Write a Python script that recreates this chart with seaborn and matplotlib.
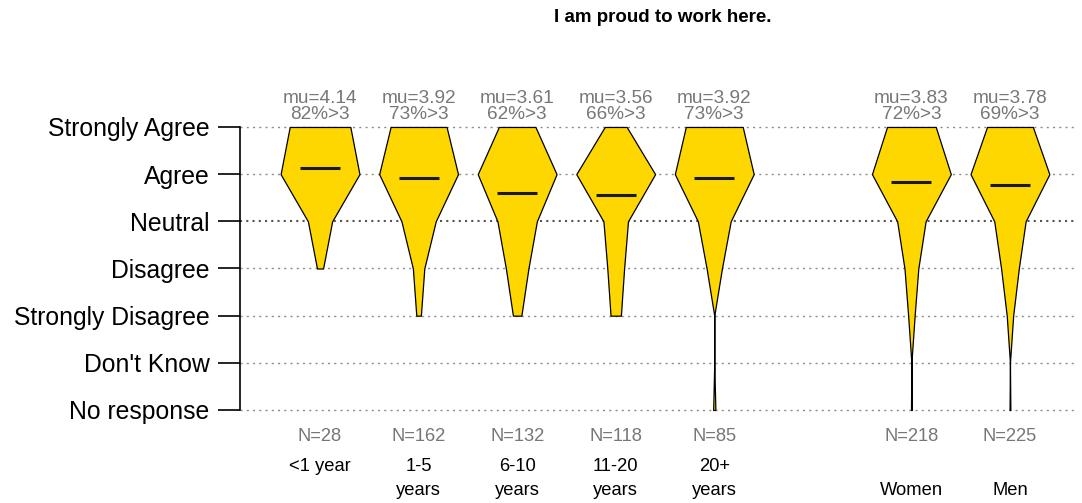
import matplotlib
matplotlib.use("Agg")
import matplotlib.pyplot as plt
import seaborn as sns
import pandas as pd

# Answer levels, top to bottom, and their numeric position on the y axis
levels = ["Strongly Agree", "Agree", "Neutral", "Disagree",
          "Strongly Disagree", "Don't Know", "No response"]
level_y = [5, 4, 3, 2, 1, 0, -1]

# Groups and where they sit on the x axis (gap between tenure and gender)
groups = ["<1 year", "1-5\nyears", "6-10\nyears", "11-20\nyears", "20+\nyears", "\nWomen", "\nMen"]
group_x = [1, 2, 3, 4, 5, 7, 8]

# Response counts per group, ordered like `levels`
counts_lt1 = [10, 13, 4, 1, 0, 0, 0]
counts_1_5 = [49, 69, 30, 10, 4, 0, 0]
counts_6_10 = [26, 56, 28, 16, 6, 0, 0]
counts_11_20 = [17, 61, 19, 13, 8, 0, 0]
counts_20p = [26, 36, 15, 7, 0, 0, 1]
counts_women = [60, 97, 35, 17, 8, 0, 1]
counts_men = [57, 98, 39, 22, 8, 0, 1]
all_counts = [counts_lt1, counts_1_5, counts_6_10, counts_11_20,
              counts_20p, counts_women, counts_men]

# Summary labels shown above each shape
means = [4.14, 3.92, 3.61, 3.56, 3.92, 3.83, 3.78]
pct_agree = [82, 73, 62, 66, 73, 72, 69]
n_resp = [28, 162, 132, 118, 85, 218, 225]

title = "I am proud to work here."

sns.set_style("white")
plt.rcParams["font.family"] = ["Liberation Sans", "DejaVu Sans"]
plt.rcParams["text.color"] = "black"
plt.rcParams["ytick.color"] = "black"

fig = plt.figure(figsize=(10.82, 5.03), dpi=100)
ax = fig.add_axes([240 / 1082, 83 / 503, 835 / 1082, 305 / 503])
ax.set_xlim(0.188, 8.66)
ax.set_ylim(-1.212, 5.254)

# dotted reference lines
for lv, yv in zip(levels, level_y):
    if lv == "Neutral":
        ax.axhline(yv, color="#555555", lw=1.5, ls=(0, (1, 2)), zorder=0)
    else:
        ax.axhline(yv, color="#8c8c8c", lw=1.0, ls=(0, (1.5, 3)), zorder=0)

# polygon "violins": half-width proportional to count, scaled per group
half_max = 0.4
for xc, cnt in zip(group_x, all_counts):
    top = max(cnt)
    nz = [i for i, c in enumerate(cnt) if c > 0]
    i0, i1 = nz[0], nz[-1]
    ys = level_y[i0:i1 + 1]
    ws = [c / top * half_max for c in cnt[i0:i1 + 1]]
    ax.fill_betweenx(ys, [xc - w for w in ws], [xc + w for w in ws],
                     facecolor="#FFD700", edgecolor="black", lw=0.9, zorder=2)

# mean markers
mean_df = pd.DataFrame({"x": group_x, "mean": means})
sns.scatterplot(data=mean_df, x="x", y="mean", marker="_", s=840,
                color="#1a1a1a", linewidth=2.2, ax=ax, zorder=3, legend=False)

# labels above and below
for xc, m, p, n, g in zip(group_x, means, pct_agree, n_resp, groups):
    ax.text(xc, 5.594, f"mu={m:.2f}", ha="center", va="center",
            fontsize=13.7, color="#777777", clip_on=False)
    ax.text(xc, 5.265, f"{p}%>3", ha="center", va="center",
            fontsize=13.7, color="#777777", clip_on=False)
    ax.text(xc, -1.572, f"N={n}", ha="center", va="center",
            fontsize=13.2, color="#777777", clip_on=False)
    for k, line in enumerate(g.split("\n")):
        ax.text(xc, -2.208 - 0.509 * k, line, ha="center", va="center",
                fontsize=13.2, color="black", clip_on=False)

ax.set_yticks(level_y)
ax.set_yticklabels(levels, fontsize=17.8, color="black")
ax.tick_params(axis="y", length=16, width=1.2, direction="out", pad=6, left=True)
ax.set_xticks([])
ax.set_xlabel("")
ax.set_ylabel("")
for side in ["top", "right", "bottom"]:
    ax.spines[side].set_visible(False)
ax.spines["left"].set_bounds(-1, 5)
ax.spines["left"].set_linewidth(1.2)
ax.spines["left"].set_color("black")

fig.text(663 / 1082, 1 - 18 / 503, title, ha="center", va="center",
         fontsize=13.5, fontweight="bold", color="black")

fig.savefig("out.png", dpi=100)
